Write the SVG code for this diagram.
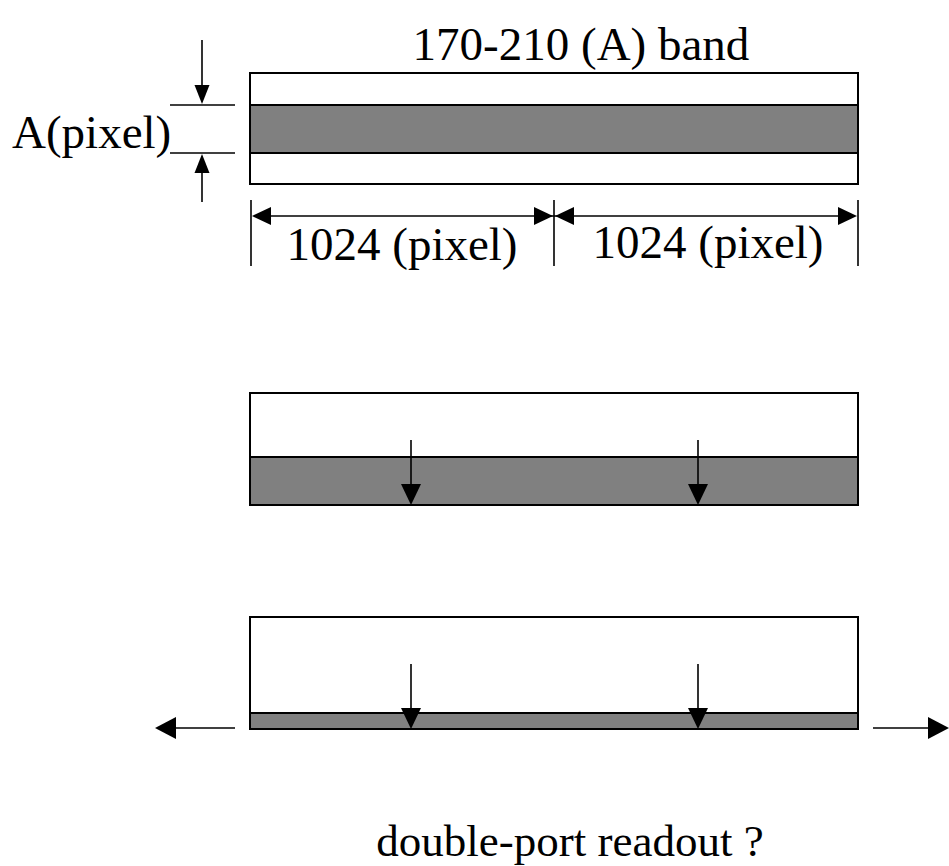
<svg xmlns="http://www.w3.org/2000/svg" width="949" height="866" viewBox="0 0 949 866">
<style>
.t{font-family:"Liberation Serif","Times New Roman",serif;font-size:47px;fill:#000}
.cap{font-size:45px}
.box{fill:#fff;stroke:#000;stroke-width:2}
.band{fill:#808080;stroke:#000;stroke-width:2}
.ln{stroke:#000;stroke-width:1.6;fill:none}
.ah{fill:#000}
</style>
<rect width="949" height="866" fill="#fff"/>
<g id="top-strip">
<rect class="box" x="250" y="73" width="608" height="111"/>
<rect class="band" x="250" y="105" width="608" height="48"/>
<text class="t" x="581" y="60" text-anchor="middle">170-210 (A) band</text>
</g>
<g id="height-dimension">
<line class="ln" x1="170" y1="105" x2="235" y2="105"/>
<line class="ln" x1="170" y1="153" x2="235" y2="153"/>
<line class="ln" x1="202" y1="40" x2="202" y2="88"/>
<polygon class="ah" points="194.5,85 209.5,85 202,104"/>
<line class="ln" x1="202" y1="170" x2="202" y2="202"/>
<polygon class="ah" points="194.5,173 209.5,173 202,154"/>
<text class="t" x="12" y="148">A(pixel)</text>
</g>
<g id="width-dimension">
<line class="ln" x1="251" y1="200" x2="251" y2="266"/>
<line class="ln" x1="554" y1="200" x2="554" y2="266"/>
<line class="ln" x1="858" y1="200" x2="858" y2="266"/>
<line class="ln" x1="260" y1="216" x2="848" y2="216"/>
<polygon class="ah" points="252,216 271,207 271,225"/>
<polygon class="ah" points="553,216 534,207 534,225"/>
<polygon class="ah" points="555,216 574,207 574,225"/>
<polygon class="ah" points="857,216 838,207 838,225"/>
<text class="t" x="402" y="260" text-anchor="middle">1024 (pixel)</text>
<text class="t" x="708" y="258" text-anchor="middle">1024 (pixel)</text>
</g>
<g id="middle-strip">
<rect class="box" x="250" y="393" width="608" height="112"/>
<rect class="band" x="250" y="457" width="608" height="48"/>
</g>
<g id="bottom-strip">
<rect class="box" x="250" y="617" width="608" height="112"/>
<rect class="band" x="250" y="713" width="608" height="16"/>
</g>
<g id="connectors">
<line class="ln" x1="411" y1="440" x2="411" y2="486"/>
<polygon class="ah" points="401,484 421,484 411,505"/>
<line class="ln" x1="698" y1="440" x2="698" y2="486"/>
<polygon class="ah" points="688,484 708,484 698,505"/>
<line class="ln" x1="411" y1="664" x2="411" y2="710"/>
<polygon class="ah" points="401,708 421,708 411,729"/>
<line class="ln" x1="698" y1="664" x2="698" y2="710"/>
<polygon class="ah" points="688,708 708,708 698,729"/>
<line class="ln" x1="235" y1="728" x2="170" y2="728"/>
<polygon class="ah" points="155,728 176,717 176,739"/>
<line class="ln" x1="873" y1="728" x2="935" y2="728"/>
<polygon class="ah" points="949,728 928,717 928,739"/>
</g>
<g id="caption">
<text class="t cap" x="570" y="856" text-anchor="middle">double-port readout ?</text>
</g>
</svg>
